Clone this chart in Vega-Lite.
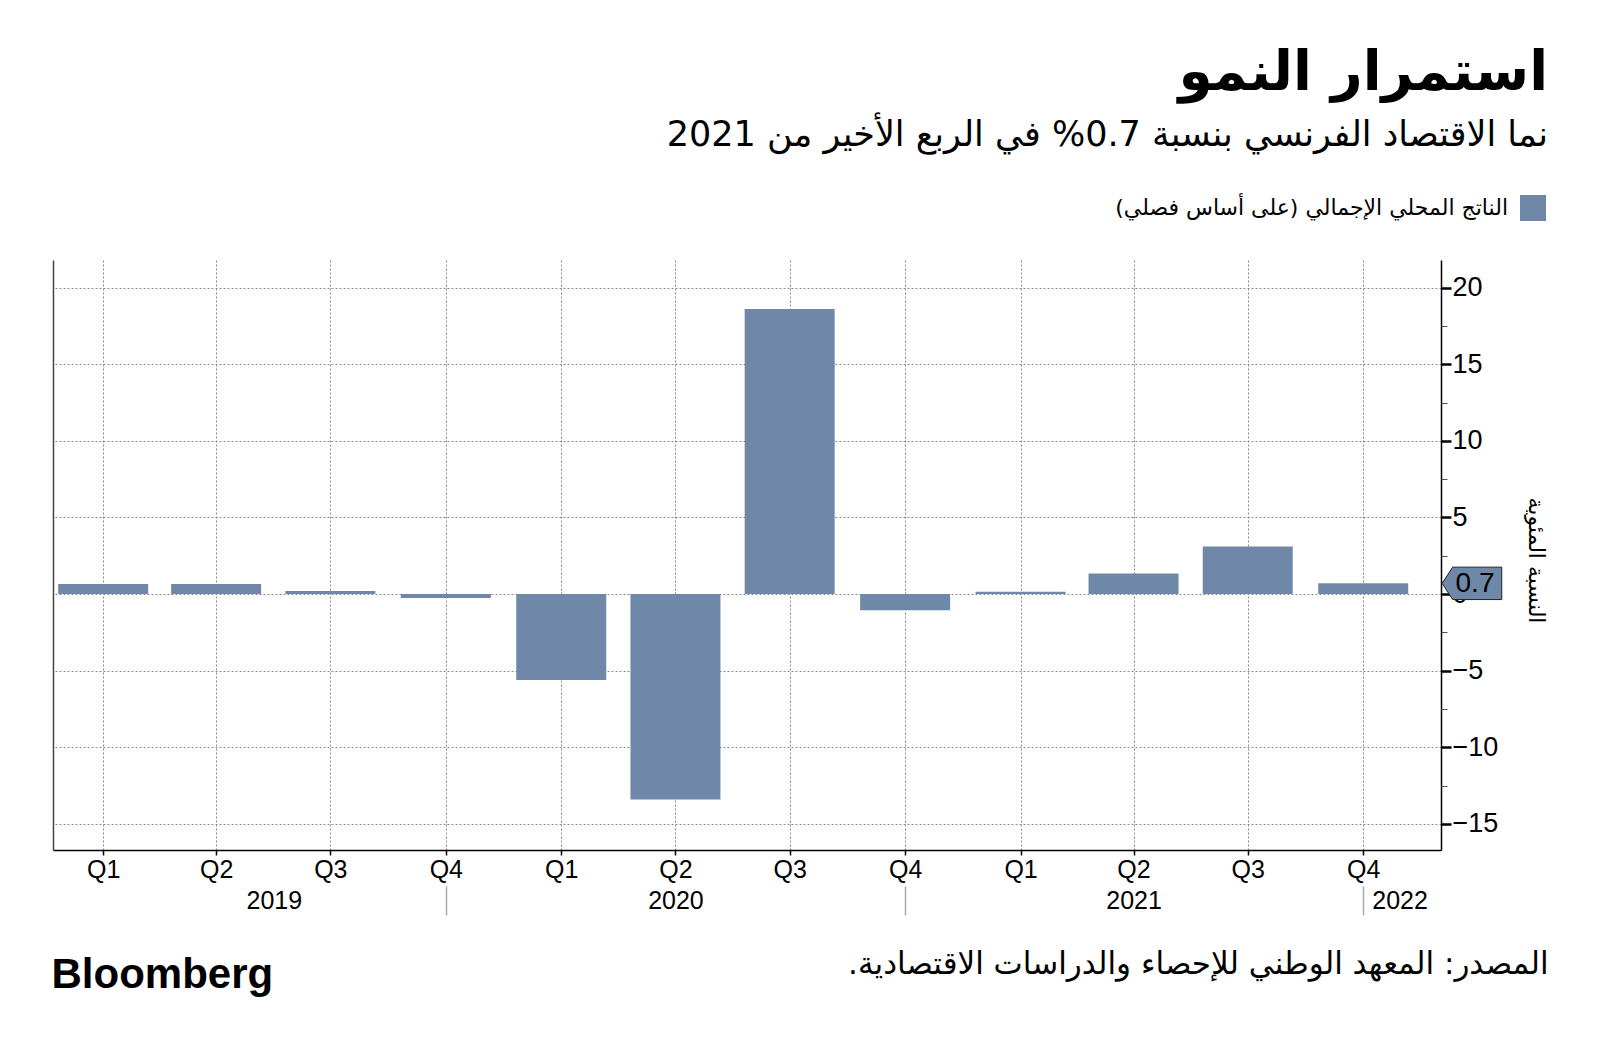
{
  "$schema": "https://vega.github.io/schema/vega-lite/v6.json",
  "width": 1388,
  "height": 590,
  "autosize": {"type": "none"},
  "padding": {"left": 53, "top": 260, "right": 159, "bottom": 202},
  "background": "#ffffff",
  "config": {"view": {"stroke": null}, "axis": {"labelFlush": false, "labelOverlap": false}},
  "title": {
    "text": "استمرار النمو‏",
    "subtitle": "نما الاقتصاد الفرنسي بنسبة 0.7% في الربع الأخير من 2021‏",
    "anchor": "end",
    "orient": "top",
    "frame": "group",
    "dx": 107,
    "font": "DejaVu Sans",
    "fontSize": 55,
    "fontWeight": "bold",
    "color": "#000000",
    "subtitleFont": "DejaVu Sans",
    "subtitleFontSize": 35,
    "subtitleFontWeight": "normal",
    "subtitleColor": "#000000",
    "subtitlePadding": 16,
    "offset": 41
  },
  "data": {
    "values": [
      {"quarter": "2019 Q1", "date": "2019-02-15", "growth": 0.65},
      {"quarter": "2019 Q2", "date": "2019-05-16", "growth": 0.65},
      {"quarter": "2019 Q3", "date": "2019-08-15", "growth": 0.2},
      {"quarter": "2019 Q4", "date": "2019-11-15", "growth": -0.25},
      {"quarter": "2020 Q1", "date": "2020-02-15", "growth": -5.6},
      {"quarter": "2020 Q2", "date": "2020-05-16", "growth": -13.4},
      {"quarter": "2020 Q3", "date": "2020-08-15", "growth": 18.6},
      {"quarter": "2020 Q4", "date": "2020-11-15", "growth": -1.05},
      {"quarter": "2021 Q1", "date": "2021-02-15", "growth": 0.15},
      {"quarter": "2021 Q2", "date": "2021-05-16", "growth": 1.35},
      {"quarter": "2021 Q3", "date": "2021-08-15", "growth": 3.1},
      {"quarter": "2021 Q4", "date": "2021-11-15", "growth": 0.7}
    ]
  },
  "resolve": {"axis": {"x": "independent", "y": "independent"}},
  "layer": [
    {
      "mark": {"type": "bar", "width": 90, "color": "#6f88a7"},
      "encoding": {
        "x": {
          "field": "date", "type": "temporal",
          "scale": {"type": "utc", "domain": [{"year": 2019, "month": 1, "date": 10, "utc": true}, {"year": 2022, "month": 1, "date": 12, "utc": true}]},
          "axis": {
            "orient": "bottom",
            "values": [
              {"year": 2019, "month": 2, "date": 15, "utc": true},
              {"year": 2019, "month": 5, "date": 16, "utc": true},
              {"year": 2019, "month": 8, "date": 15, "utc": true},
              {"year": 2019, "month": 11, "date": 15, "utc": true},
              {"year": 2020, "month": 2, "date": 15, "utc": true},
              {"year": 2020, "month": 5, "date": 16, "utc": true},
              {"year": 2020, "month": 8, "date": 15, "utc": true},
              {"year": 2020, "month": 11, "date": 15, "utc": true},
              {"year": 2021, "month": 2, "date": 15, "utc": true},
              {"year": 2021, "month": 5, "date": 16, "utc": true},
              {"year": 2021, "month": 8, "date": 15, "utc": true},
              {"year": 2021, "month": 11, "date": 15, "utc": true}
            ],
            "labelExpr": "'Q' + (floor(utcmonth(datum.value) / 3) + 1)",
            "grid": true, "gridColor": "#8a8a8a", "gridDash": [2, 2], "gridWidth": 1,
            "domain": true, "domainColor": "#000000", "domainWidth": 1.5,
            "ticks": true, "tickSize": 5, "tickColor": "#000000", "tickWidth": 1.5,
            "labelPadding": 2, "labelFont": "Liberation Sans", "labelFontSize": 25, "labelColor": "#000000",
            "title": null
          }
        },
        "y": {
          "field": "growth", "type": "quantitative",
          "scale": {"domain": [-16.7, 21.8], "nice": false, "zero": false},
          "axis": {
            "orient": "right",
            "values": [-15, -10, -5, 0, 5, 10, 15, 20],
            "grid": true, "gridColor": "#8a8a8a", "gridDash": [2, 2], "gridWidth": 1,
            "domain": true, "domainColor": "#000000", "domainWidth": 1.5,
            "ticks": true, "tickSize": 10, "tickWidth": 2.5, "tickColor": "#000000",
            "labelPadding": 1, "labelFont": "Liberation Sans", "labelFontSize": 27, "labelColor": "#000000",
            "title": "النسبة المئوية", "titleFont": "DejaVu Sans", "titleFontSize": 22, "titleFontWeight": "normal",
            "titleColor": "#000000", "titleAngle": 90, "titleX": 94, "titleY": 300, "titleAlign": "center", "titleBaseline": "middle"
          }
        },
        "color": {
          "datum": "الناتج المحلي الإجمالي (على أساس فصلي)‏", "type": "nominal",
          "scale": {"range": ["#6f88a7"]},
          "legend": {
            "orient": "none", "legendX": 1467, "legendY": -65, "title": null, "padding": 0,
            "symbolType": "square", "symbolSize": 676, "symbolStrokeWidth": 0,
            "labelAlign": "right", "labelOffset": -38, "labelFont": "DejaVu Sans", "labelFontSize": 22,
            "labelLimit": 800, "labelColor": "#000000"
          }
        }
      }
    },
    {
      "mark": {"type": "bar", "width": 90, "opacity": 0},
      "encoding": {
        "x": {
          "field": "date", "type": "temporal",
          "axis": {
            "orient": "bottom",
            "values": [
              {"year": 2019, "month": 7, "date": 1, "utc": true},
              {"year": 2020, "month": 5, "date": 16, "utc": true},
              {"year": 2021, "month": 5, "date": 16, "utc": true},
              {"year": 2021, "month": 12, "date": 14, "utc": true}
            ],
            "labelExpr": "utcmonth(datum.value) == 11 ? '2022' : utcFormat(datum.value, '%Y')",
            "ticks": false, "domain": false, "grid": false,
            "labelPadding": 38, "labelFont": "Liberation Sans", "labelFontSize": 25, "labelColor": "#000000",
            "title": "Bloomberg", "titleFont": "Liberation Sans", "titleFontWeight": "bold", "titleFontSize": 42,
            "titleColor": "#000000", "titleX": -2, "titleY": 124, "titleAlign": "left", "titleBaseline": "middle", "titleAngle": 0
          }
        },
        "y": {
          "field": "growth", "type": "quantitative",
          "axis": {
            "orient": "right",
            "values": [-12.5, -7.5, -2.5, 2.5, 7.5, 12.5, 17.5],
            "labels": false, "ticks": true, "tickSize": 6, "tickColor": "#555555", "tickWidth": 1,
            "domain": false, "grid": false, "title": null
          }
        }
      }
    },
    {
      "mark": {"type": "bar", "width": 90, "opacity": 0},
      "encoding": {
        "x": {
          "field": "date", "type": "temporal",
          "axis": {
            "orient": "bottom", "offset": 36,
            "values": [
              {"year": 2019, "month": 11, "date": 15, "utc": true},
              {"year": 2020, "month": 11, "date": 15, "utc": true},
              {"year": 2021, "month": 11, "date": 15, "utc": true}
            ],
            "labels": false, "domain": false, "grid": false,
            "ticks": true, "tickSize": 29, "tickColor": "#aaaaaa", "tickWidth": 1.5,
            "title": "المصدر: المعهد الوطني للإحصاء والدراسات الاقتصادية.‏",
            "titleFont": "DejaVu Sans", "titleFontSize": 31, "titleFontWeight": "normal", "titleColor": "#000000",
            "titleX": 1495, "titleY": 78, "titleAlign": "right", "titleBaseline": "middle", "titleAngle": 0
          }
        },
        "y": {
          "field": "growth", "type": "quantitative",
          "axis": {
            "orient": "left", "labels": false, "ticks": false, "grid": false,
            "domain": true, "domainColor": "#444444", "domainWidth": 1.5, "title": null
          }
        }
      }
    },
    {
      "transform": [{"filter": {"field": "quarter", "equal": "2021 Q4"}}],
      "mark": {
        "type": "point", "shape": "M 0.07 0 L 0.72 -1 L 3.75 -1 L 3.75 1 L 0.72 1 Z",
        "filled": true, "color": "#6f88a7", "stroke": "#222222", "strokeWidth": 1, "opacity": 1, "size": 1050
      },
      "encoding": {
        "x": {"value": "width"},
        "y": {"field": "growth", "type": "quantitative", "axis": null}
      }
    },
    {
      "transform": [{"filter": {"field": "quarter", "equal": "2021 Q4"}}],
      "mark": {"type": "text", "align": "center", "baseline": "middle", "dx": 34, "dy": 1, "font": "Liberation Sans", "fontSize": 28, "color": "#000000"},
      "encoding": {
        "x": {"value": "width"},
        "y": {"field": "growth", "type": "quantitative", "axis": null},
        "text": {"field": "growth", "type": "quantitative", "format": ".1f"}
      }
    }
  ]
}
